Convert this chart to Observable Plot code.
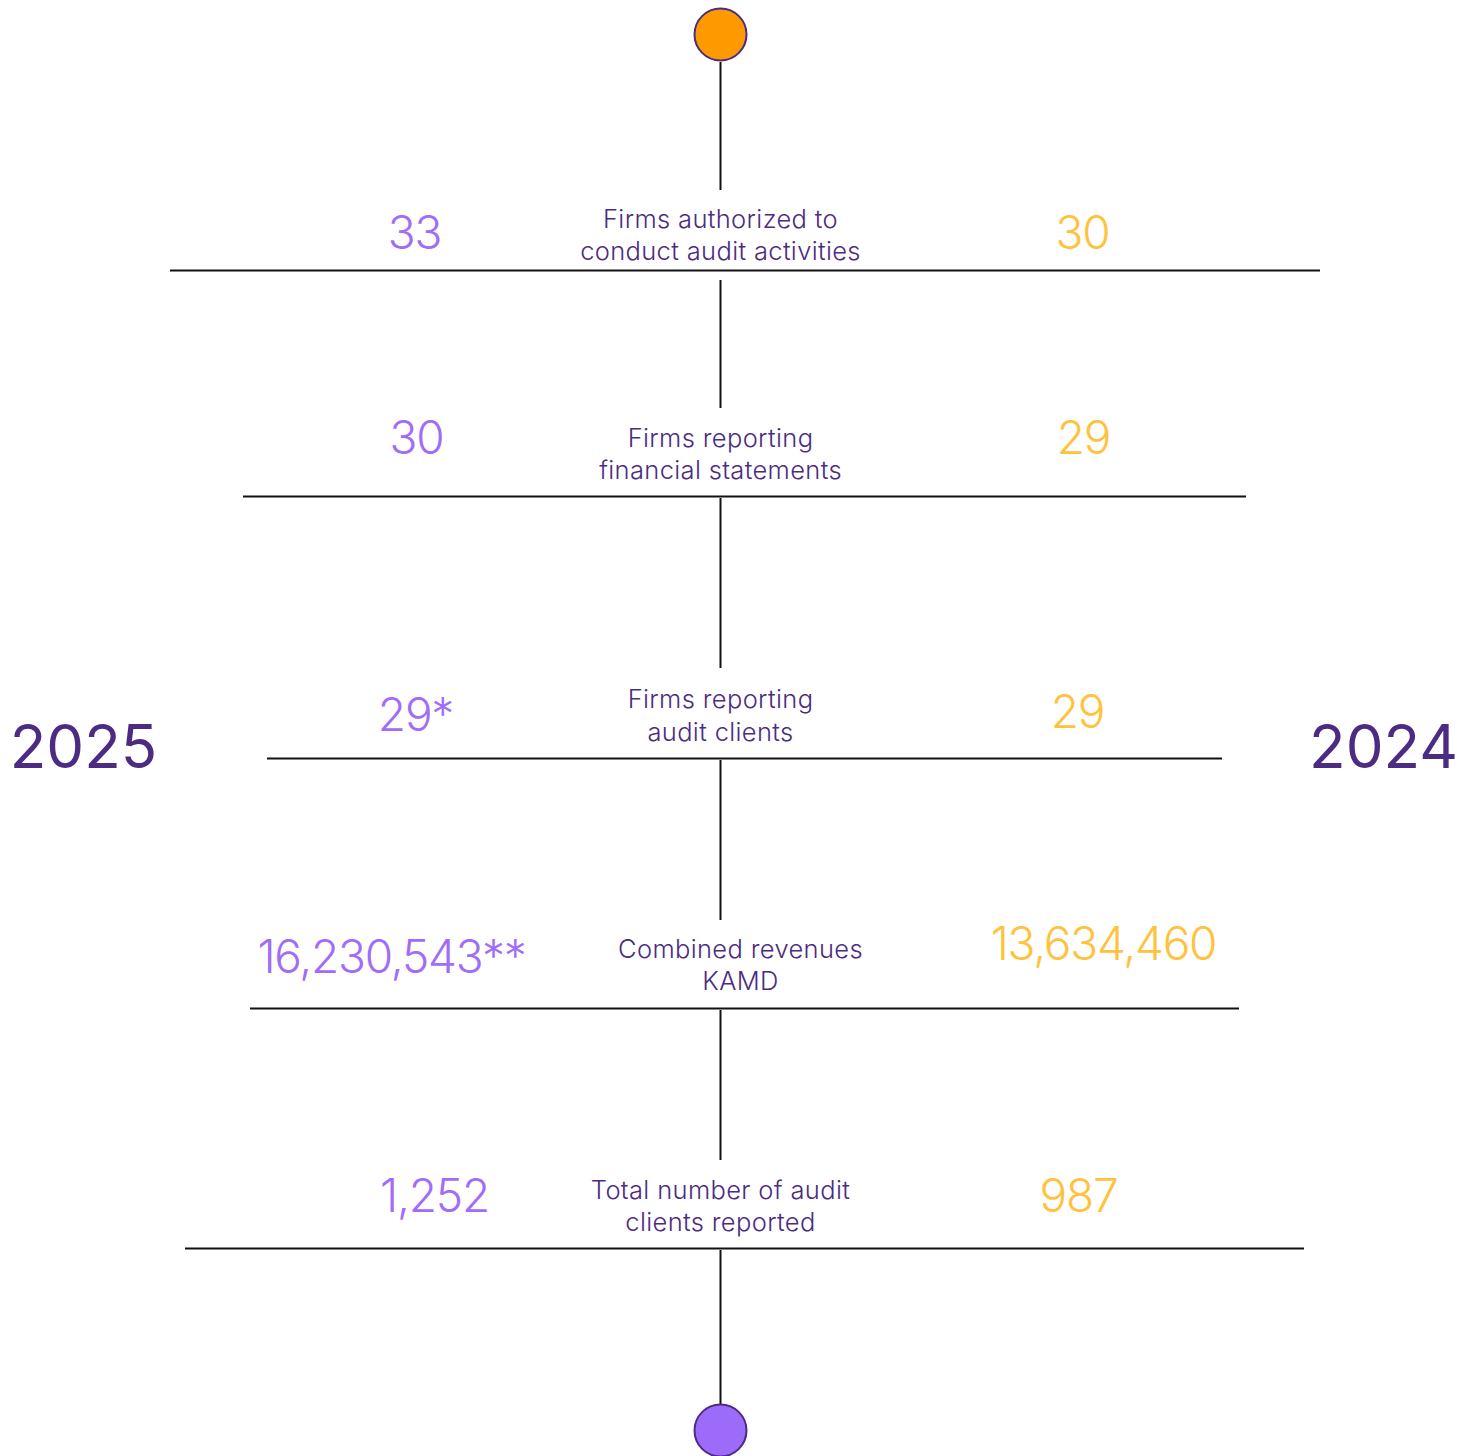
<!DOCTYPE html>
<html>
<head>
<meta charset="utf-8">
<script src="https://cdn.jsdelivr.net/npm/d3@7"></script>
<script src="https://cdn.jsdelivr.net/npm/@observablehq/plot@0.6"></script>
<style>
  html, body { margin: 0; padding: 0; background: #ffffff; }
  #chart svg { display: block; }
</style>
</head>
<body>
<div id="chart"></div>
<script>
// ---- Data ----
const labels = [
  "Firms authorized to\nconduct audit activities",
  "Firms reporting\nfinancial statements",
  "Firms reporting\naudit clients",
  "Combined revenues\nKAMD",
  "Total number of audit\nclients reported"
];
const values2025 = ["33", "30", "29*", "16,230,543**", "1,252"];
const values2024 = ["30", "29", "29", "13,634,460", "987"];
const years = ["2025", "2024"];

// ---- Layout (positions in page pixels) ----
const W = 1473, H = 1456;
const lineY   = [270, 496, 758, 1008, 1248];
const lineX1  = [170, 243, 267, 250, 185];
const lineX2  = [1320, 1246, 1222, 1239, 1304];
const labelY  = [233, 452, 713.5, 963, 1204];
const labelX  = [720, 720, 720, 740, 720];
const leftX   = [414, 416, 415, 391, 434];
const leftY   = [234, 439, 716, 958, 1197];
const rightX  = [1082, 1083, 1077, 1103, 1078];
const rightY  = [234, 439, 713, 945, 1197];
const spineX = 720;
const spineGaps = [[62, 190], [280, 408], [498, 668], [760, 920], [1010, 1160], [1250, 1404]];

const rows = labels.map((label, i) => ({
  label, v25: values2025[i], v24: values2024[i],
  ly: lineY[i], x1: lineX1[i], x2: lineX2[i],
  labx: labelX[i], laby: labelY[i],
  lx: leftX[i], lyv: leftY[i], rx: rightX[i], ryv: rightY[i]
}));
const spine = spineGaps.map(([a, b]) => ({x: spineX, y1: a, y2: b}));
const yearRows = years.map((t, i) => ({t, x: i === 0 ? 83 : 1383, y: 748}));
const endDots = [
  {x: spineX, y: 34, fill: "#FF9900"},
  {x: spineX, y: 1430, fill: "#9D6BFA"}
];

const FONT = "Inter, 'Noto Sans', sans-serif";
const DARK = "#4B2C82";
const LIGHT = "#A06CF8";
const YELLOW = "#FFC23C";

const chart = Plot.plot({
  width: W, height: H,
  margin: 0,
  x: {domain: [0, W], range: [0, W], axis: null},
  y: {domain: [0, H], range: [0, H], axis: null},
  style: {fontFamily: FONT, background: "#ffffff"},
  marks: [
    Plot.ruleX(spine, {x: "x", y1: "y1", y2: "y2", stroke: "#111", strokeWidth: 2}),
    Plot.ruleY(rows, {y: "ly", x1: "x1", x2: "x2", stroke: "#111", strokeWidth: 2}),
    Plot.dot(endDots, {x: "x", y: "y", r: 26, fill: "fill", stroke: DARK, strokeWidth: 2}),
    Plot.text(rows, {x: "labx", y: "laby", text: "label", fill: DARK, fontSize: 25.5, lineHeight: 1.29, lineAnchor: "middle", textAnchor: "middle", fontWeight: 300}),
    Plot.text(rows, {x: "lx", y: "lyv", text: "v25", fill: LIGHT, fontSize: 46, fontWeight: 300, textAnchor: "middle", lineAnchor: "middle"}),
    Plot.text(rows, {x: "rx", y: "ryv", text: "v24", fill: YELLOW, fontSize: 46, fontWeight: 300, textAnchor: "middle", lineAnchor: "middle"}),
    Plot.text(yearRows, {x: "x", y: "y", text: "t", fill: DARK, fontSize: 60, fontWeight: 400, textAnchor: "middle", lineAnchor: "middle"})
  ]
});
// fine typographic tracking
d3.select(chart).selectAll("g[font-size='25.5'] text").attr("letter-spacing", "0.35px");
d3.select(chart).selectAll("g[font-size='46'] text").attr("letter-spacing", "-1.2px");
document.getElementById("chart").appendChild(chart);
</script>
</body>
</html>
